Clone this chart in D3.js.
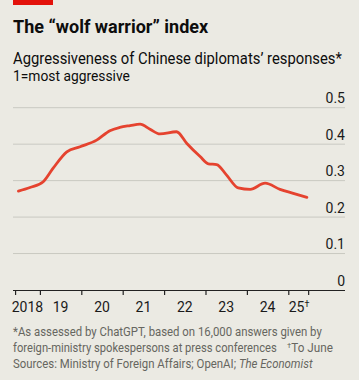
<!DOCTYPE html>
<html><head><meta charset="utf-8">
<script src="https://cdn.jsdelivr.net/npm/d3@7/dist/d3.min.js"></script>
<style>
html,body{margin:0;padding:0;background:#ebeae3;}
svg{display:block;font-family:Roboto,"Noto Sans",sans-serif;}
</style></head>
<body><svg id="c" width="359" height="380"></svg>
<script>
// Data (decimal year, index value)
const dates = [2018.48,2018.76,2019.08,2019.32,2019.65,2019.97,2020.37,2020.69,2020.93,2021.18,2021.42,2021.66,2021.90,2022.30,2022.55,2022.87,2023.07,2023.27,2023.51,2023.79,2024.08,2024.44,2024.80,2025.12,2025.45];
const values = [0.271,0.281,0.297,0.334,0.379,0.393,0.411,0.437,0.446,0.451,0.455,0.441,0.428,0.434,0.402,0.366,0.346,0.344,0.315,0.280,0.276,0.293,0.276,0.265,0.254];
const yTicks = [0,0.1,0.2,0.3,0.4,0.5];
const yTickLabels = ["0","0.1","0.2","0.3","0.4","0.5"];
const xTicks = [2018.4,2019,2020,2021,2022,2023,2024,2025,2025.48];
const xLabelPos = [2018.7,2019.5,2020.5,2021.5,2022.5,2023.5,2024.5,2025.26];
const xLabels = ["2018","19","20","21","22","23","24","25"];

const svg = d3.select("#c");
const L = 13, R = 345, T = 107.7, B = 290;
const x = d3.scaleLinear().domain([2018.35,2026.37]).range([L,R]);
const y = d3.scaleLinear().domain([0,0.5]).range([B,T]);

// helper: place text at (x0,y0) and squeeze horizontally to a target width
function fitText(sel, x0, y0, target){
  sel.attr("x",0).attr("y",0);
  const w = sel.node().getComputedTextLength();
  const k = Math.min(1, target / w);
  sel.attr("transform",`translate(${x0},${y0}) scale(${k},1)`);
  return sel;
}

svg.append("rect").attr("x",13).attr("y",0).attr("width",40).attr("height",5).attr("fill","#e3120b");

fitText(svg.append("text").attr("font-size",18).attr("font-weight",700).attr("fill","#0d0d0d")
  .text("The \u201cwolf warrior\u201d index"), 13, 33, 200);
fitText(svg.append("text").attr("font-size",16).attr("fill","#0d0d0d")
  .text("Aggressiveness of Chinese diplomats\u2019 responses*"), 13, 63.5, 329);
fitText(svg.append("text").attr("font-size",14).attr("fill","#0d0d0d")
  .text("1=most aggressive"), 13, 81, 117);

// grid
svg.selectAll(".grid").data(yTicks.filter(d=>d>0)).enter().append("line")
  .attr("x1",L).attr("x2",R).attr("y1",d=>y(d)).attr("y2",d=>y(d))
  .attr("stroke","#c9c9c2").attr("stroke-width",1);
svg.selectAll(".ylab").data(yTicks).enter().append("text")
  .attr("x",R).attr("y",d=>y(d)-4.5).attr("text-anchor","end").attr("font-size",14).attr("fill","#1a1a1a")
  .text((d,i)=>yTickLabels[i]);

// x axis
const xAxis = d3.axisBottom(x).tickValues(xTicks).tickSize(5).tickFormat("");
const gx = svg.append("g").attr("transform",`translate(0,${B})`).call(xAxis);
gx.select(".domain").attr("d",`M${L},0.5H${R}`).attr("stroke","#222").attr("stroke-width",1.2);
gx.selectAll(".tick line").attr("stroke","#222").attr("stroke-width",1.2);

const xl = svg.selectAll(".xlab").data(xLabels).enter().append("text")
  .attr("x",(d,i)=>x(xLabelPos[i])).attr("y",311.5).attr("text-anchor","middle")
  .attr("font-size",14).attr("fill","#1a1a1a").text(d=>d);
xl.filter((d,i)=>i===xLabels.length-1).append("tspan").attr("font-size",9).attr("dy",-5).text("\u2020");

// line
const line = d3.line().x((d,i)=>x(dates[i])).y(d=>y(d)).curve(d3.curveMonotoneX);
svg.append("path").datum(values).attr("d",line).attr("fill","none")
  .attr("stroke","#e5432f").attr("stroke-width",2.8).attr("stroke-linejoin","round").attr("stroke-linecap","round");

// footnotes
const fc = "#666660";
fitText(svg.append("text").attr("font-size",12).attr("fill",fc)
  .text("*As assessed by ChatGPT, based on 16,000 answers given by"), 13, 336, 309);
fitText(svg.append("text").attr("font-size",12).attr("fill",fc)
  .text("foreign-ministry spokespersons at press conferences"), 13, 352, 264);
const tj = svg.append("text").attr("font-size",12).attr("fill",fc);
tj.append("tspan").attr("font-size",8).attr("dy",-4).text("\u2020");
tj.append("tspan").attr("dy",4).text("To June");
fitText(tj, 287, 352, 46);
const src = svg.append("text").attr("font-size",12).attr("fill",fc);
src.append("tspan").text("Sources: Ministry of Foreign Affairs; OpenAI; ");
src.append("tspan").attr("font-style","italic").text("The Economist");
fitText(src, 13, 368, 300);
</script></body></html>
